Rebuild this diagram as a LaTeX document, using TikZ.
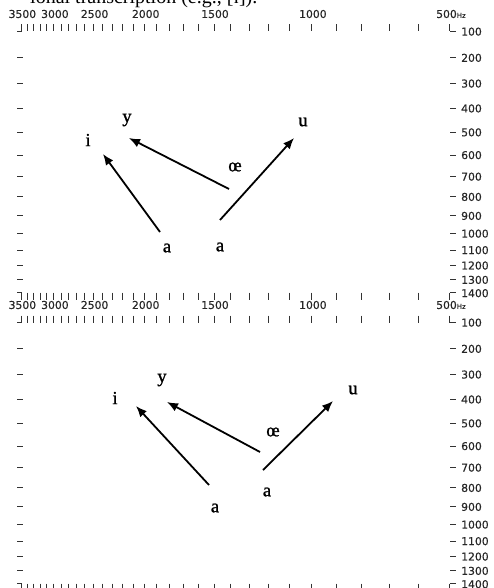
\documentclass[tikz,border=0pt]{standalone}
\usepackage{fontspec}
\setmainfont{Liberation Serif}
\newfontfamily\axisfont{DejaVu Sans}[FakeBold=0.4]
\newfontfamily\vowelfont{Liberation Serif}[FakeBold=1.2]
\usetikzlibrary{arrows.meta}
\pgfmathdeclarefunction{bark}{1}{%
  \pgfmathparse{13*rad(atan(0.00076*#1))+3.5*rad(atan((#1/7500)^2))}%
}
\begin{document}
\begin{tikzpicture}[x=1pt,y=-1pt,
  tickline/.style={line width=0.9pt, black!80},
  axlab/.style={font=\axisfont\fontsize{10.8}{10.8}\selectfont, text=black!85, inner sep=0pt},
  vowel/.style={font=\vowelfont\fontsize{18.5}{18.5}\selectfont, inner sep=0pt},
  arr/.style={line width=1.8pt, -{Latex[length=11pt,width=9pt]}}]
\useasboundingbox (0,0) rectangle (494,588);
\clip (0,0) rectangle (494,588);

% cropped caption line at the top
\node[anchor=base west, font=\fontsize{20}{20}\selectfont, inner sep=0pt] (cap) at (30,4) {ional transcription (e.g., [ɪ]).};

\foreach \yo in {0,291} {
  % F2 ticks, top and bottom
  \foreach \f in {500,600,...,3500} {
    \pgfmathsetmacro\xx{450-36.41*(bark(\f)-4.7413)}
    \draw[tickline] (\xx,\yo+24.5) -- (\xx,\yo+31.5);
    \draw[tickline] (\xx,\yo+292.5) -- (\xx,\yo+299.5);
  }
  % corners
  \draw[tickline] (17,\yo+31.5) -- (22,\yo+31.5);
  \draw[tickline] (450,\yo+31.5) -- (456,\yo+31.5);
  \draw[tickline] (17,\yo+292.5) -- (22,\yo+292.5);
  \draw[tickline] (450,\yo+292.5) -- (456,\yo+292.5);
  % F2 labels
  \foreach \f in {3500,3000,2500,2000,1500,1000} {
    \pgfmathsetmacro\xx{450-36.41*(bark(\f)-4.7413)}
    \node[axlab] (f2lab\f-\yo) at (\xx+1,\yo+14) {\f};
  }
  \node[axlab, anchor=west] (f2lab500-\yo) at (436,\yo+14) {500{\fontsize{7}{7}\selectfont Hz}};
  % F1 dashes and labels
  \foreach \f in {200,300,...,1300} {
    \pgfmathsetmacro\yy{\yo+31.5+26.78*(bark(\f)-0.9867)}
    \draw[tickline] (17,\yy) -- (23,\yy);
    \draw[tickline] (450,\yy) -- (456,\yy);
  }
  \foreach \f in {100,200,...,1400} {
    \pgfmathsetmacro\yy{\yo+31.5+26.78*(bark(\f)-0.9867)}
    \node[axlab, anchor=west] (f1lab\f-\yo) at (461,\yy) {\f};
  }
}

% panel 1 vowels
\node[vowel] (i1) at (88,140) {i};
\node[vowel] (y1) at (127,120) {y};
\node[vowel] (u1) at (303,122) {u};
\node[vowel] (oe1) at (235,167) {œ};
\node[vowel] (aL1) at (167,248) {a};
\node[vowel] (aR1) at (220,247) {a};
\coordinate (i1s) at (160,232); \coordinate (i1e) at (103,154);
\coordinate (y1s) at (229,189); \coordinate (y1e) at (129,138);
\coordinate (u1s) at (220,220); \coordinate (u1e) at (294,138);
\draw[arr] (i1s) -- (i1e);
\draw[arr] (y1s) -- (y1e);
\draw[arr] (u1s) -- (u1e);

% panel 2 vowels
\node[vowel] (i2) at (115,398) {i};
\node[vowel] (y2) at (162,380) {y};
\node[vowel] (u2) at (353,390) {u};
\node[vowel] (oe2) at (273,432) {œ};
\node[vowel] (aL2) at (215,508) {a};
\node[vowel] (aR2) at (267,492) {a};
\coordinate (i2s) at (209,485); \coordinate (i2e) at (136,406);
\coordinate (y2s) at (260,452); \coordinate (y2e) at (167,402);
\coordinate (u2s) at (263,470); \coordinate (u2e) at (333,401);
\draw[arr] (i2s) -- (i2e);
\draw[arr] (y2s) -- (y2e);
\draw[arr] (u2s) -- (u2e);
\end{tikzpicture}
\end{document}
